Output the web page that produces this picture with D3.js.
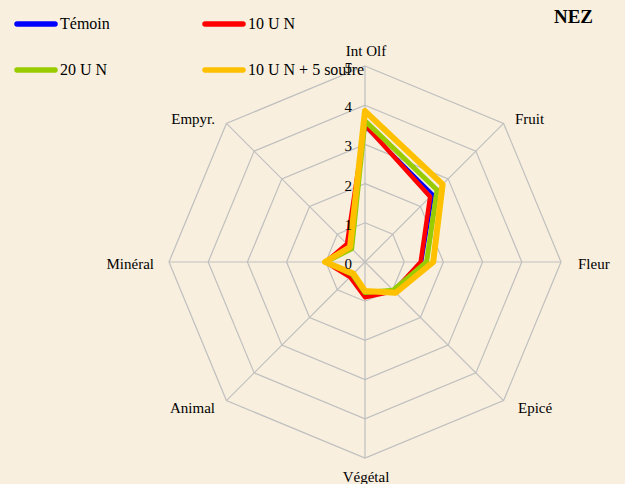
<!DOCTYPE html>
<html>
<head>
<meta charset="utf-8">
<script src="https://cdn.jsdelivr.net/npm/d3@7"></script>
<style>
  body { margin: 0; background: #f8efde; }
  text { font-family: 'Liberation Serif', 'Times New Roman', 'DejaVu Serif', serif; }
</style>
</head>
<body>
<svg id="chart" width="625" height="484"></svg>
<script>
// ---- DATA ----
const axes = ['Int Olf', 'Fruit', 'Fleur', 'Epicé', 'Végétal', 'Animal', 'Minéral', 'Empyr.'];
const ticks = [0, 1, 2, 3, 4, 5];
const seriesNames = ['Témoin', '10 U N', '20 U N', '10 U N + 5 soufre'];
const temoin  = [3.45, 2.45, 1.45, 1.02, 0.85, 0.5, 0.95, 0.6];
const un10    = [3.5, 2.35, 1.42, 1.05, 0.9, 0.54, 1.0, 0.65];
const un20    = [3.6, 2.6, 1.57, 1.02, 0.78, 0.45, 1.0, 0.48];
const un10s5  = [3.85, 2.8, 1.74, 1.11, 0.74, 0.42, 1.02, 0.54];
const seriesValues = [temoin, un10, un20, un10s5];
const colors = ['#0000ff', '#ff0000', '#99cc00', '#ffc000'];
const widths = [3, 4.5, 5, 6];

const svg = d3.select('#chart');
const cx = 365, cy = 262, R = 196;

const r = d3.scaleLinear().domain([0, 5]).range([0, R]);
const angle = d3.scalePoint().domain(d3.range(axes.length + 1)).range([0, 2 * Math.PI]);
const pt = (i, v) => [cx + r(v) * Math.sin(angle(i)), cy - r(v) * Math.cos(angle(i))];

// ---- GRID ----
const grid = svg.append('g').attr('stroke', '#bfbfbf').attr('fill', 'none').attr('stroke-width', 1.2);
ticks.slice(1).forEach(t => {
  grid.append('polygon').attr('points', axes.map((a, i) => pt(i, t).join(',')).join(' '));
});
axes.forEach((a, i) => {
  const [x, y] = pt(i, 5);
  grid.append('line').attr('x1', cx).attr('y1', cy).attr('x2', x).attr('y2', y);
});

// ---- SERIES ----
const line = d3.lineRadial()
  .angle((d, i) => angle(i))
  .radius(d => r(d))
  .curve(d3.curveLinearClosed);

seriesValues.forEach((vals, k) => {
  svg.append('path')
    .attr('transform', `translate(${cx},${cy})`)
    .attr('d', line(vals))
    .attr('fill', 'none')
    .attr('stroke', colors[k])
    .attr('stroke-width', widths[k])
    .attr('stroke-linejoin', 'round');
});

// ---- TICK LABELS ----
svg.append('g').selectAll('text').data(ticks).join('text')
  .attr('x', cx - 13)
  .attr('y', d => cy - r(d) + 7)
  .attr('text-anchor', 'end')
  .attr('font-size', 15)
  .attr('fill', '#000')
  .text(d => d);

// ---- AXIS LABELS ----
const labelPos = [
  { x: 366, y: 56, a: 'middle' },
  { x: 515, y: 124, a: 'start' },
  { x: 578, y: 269, a: 'start' },
  { x: 518, y: 413, a: 'start' },
  { x: 366, y: 482, a: 'middle' },
  { x: 215, y: 413, a: 'end' },
  { x: 154, y: 269, a: 'end' },
  { x: 215, y: 124, a: 'end' }
];
svg.append('g').selectAll('text').data(axes).join('text')
  .attr('x', (d, i) => labelPos[i].x)
  .attr('y', (d, i) => labelPos[i].y)
  .attr('text-anchor', (d, i) => labelPos[i].a)
  .attr('font-size', 15)
  .text(d => d);

// ---- LEGEND ----
const legend = svg.append('g');
seriesNames.forEach((name, k) => {
  const lx = (k % 2) * 188 + 15, ly = k < 2 ? 24 : 70;
  legend.append('line')
    .attr('x1', lx + 2).attr('x2', lx + 40).attr('y1', ly).attr('y2', ly)
    .attr('stroke', colors[k]).attr('stroke-width', 5.5).attr('stroke-linecap', 'round');
  legend.append('text')
    .attr('x', lx + 45).attr('y', ly + 5)
    .attr('font-size', 16)
    .text(name);
});

// ---- TITLE ----
svg.append('text')
  .attr('x', 593).attr('y', 23)
  .attr('text-anchor', 'end')
  .attr('font-size', 19).attr('font-weight', 'bold')
  .text('NEZ');
</script>
</body>
</html>
